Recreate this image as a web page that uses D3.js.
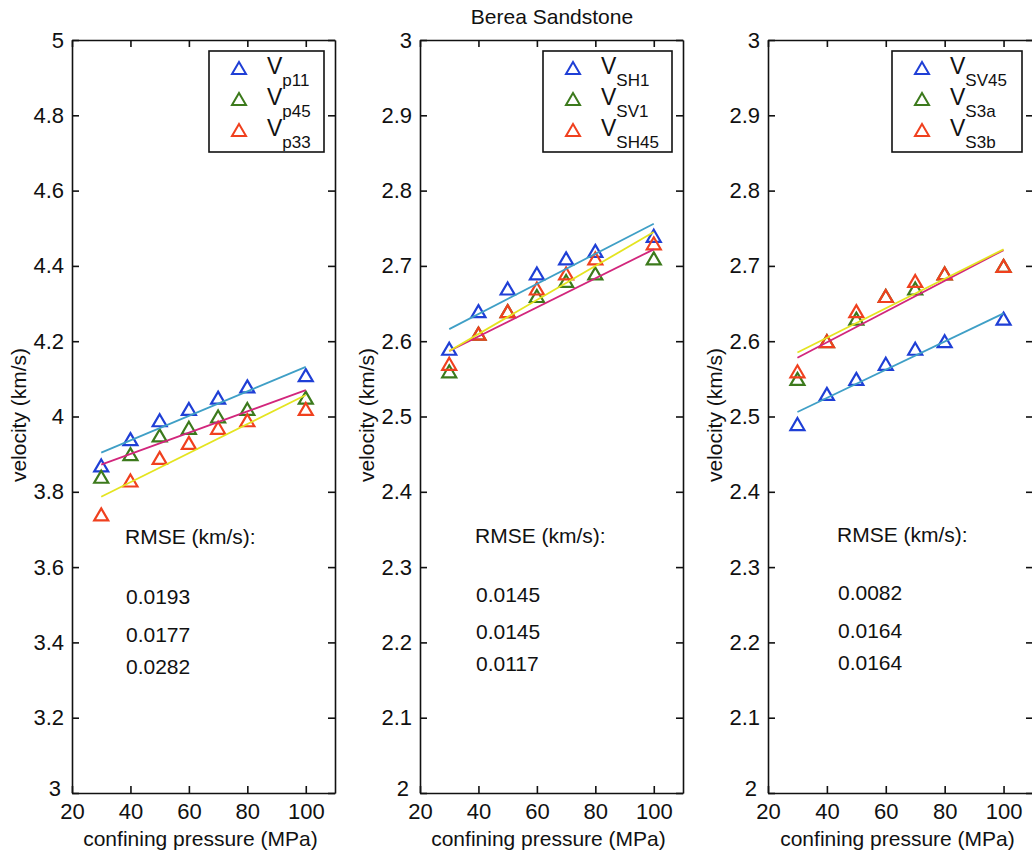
<!DOCTYPE html>
<html><head><meta charset="utf-8">
<script src="https://cdn.jsdelivr.net/npm/d3@7"></script>
<style>
html,body{margin:0;padding:0;background:#fff;}
svg{display:block;font-family:"Liberation Sans",Arial,Helvetica,sans-serif;}
</style>
</head><body>
<svg id="chart" width="1032" height="854"></svg>
<script>
// ---------- data ----------
const pressure = [30, 40, 50, 60, 70, 80, 100];
const xTicks = [20, 40, 60, 80, 100];

// panel 1 (P-wave)
const vp11 = [3.87, 3.94, 3.99, 4.02, 4.05, 4.08, 4.11];
const vp45 = [3.84, 3.90, 3.95, 3.97, 4.00, 4.02, 4.05];
const vp33 = [3.74, 3.83, 3.89, 3.93, 3.97, 3.99, 4.02];
// panel 2
const vSH1  = [2.59, 2.64, 2.67, 2.69, 2.71, 2.72, 2.74];
const vSV1  = [2.56, 2.61, 2.64, 2.66, 2.68, 2.69, 2.71];
const vSH45 = [2.57, 2.61, 2.64, 2.67, 2.69, 2.71, 2.73];
// panel 3
const vSV45 = [2.49, 2.53, 2.55, 2.57, 2.59, 2.60, 2.63];
const vS3a  = [2.55, 2.60, 2.63, 2.66, 2.67, 2.69, 2.70];
const vS3b  = [2.56, 2.60, 2.64, 2.66, 2.68, 2.69, 2.70];

// model fit lines (value at first and last pressure)
const fitPressure = [30, 100];
const fitVp11 = [3.904, 4.132], fitVp45 = [3.872, 4.070], fitVp33 = [3.787, 4.057];
const fitSH1 = [2.616, 2.756], fitSV1 = [2.587, 2.722], fitSH45 = [2.587, 2.745];
const fitSV45 = [2.506, 2.637], fitS3a = [2.578, 2.721], fitS3b = [2.585, 2.722];

const yTicks1 = [3, 3.2, 3.4, 3.6, 3.8, 4, 4.2, 4.4, 4.6, 4.8, 5];
const yTicks2 = [2, 2.1, 2.2, 2.3, 2.4, 2.5, 2.6, 2.7, 2.8, 2.9, 3];

const labels1 = [["V","p11"],["V","p45"],["V","p33"]];
const labels2 = [["V","SH1"],["V","SV1"],["V","SH45"]];
const labels3 = [["V","SV45"],["V","S3a"],["V","S3b"]];

const rmse1 = ["0.0193", "0.0177", "0.0282"];
const rmse2 = ["0.0145", "0.0145", "0.0117"];
const rmse3 = ["0.0082", "0.0164", "0.0164"];

const title = "Berea Sandstone";
const xTitle = "confining pressure (MPa)";
const yTitle = "velocity (km/s)";

// ---------- styles ----------
const markerColors = ["#1f3fd6", "#3c7a1c", "#f0401e"];
// fit colours per series: series1 cyan, series2 magenta, series3 yellow
const fitColors = ["#3f9fc6", "#d2267c", "#e4e420"];
const FONT = 21;
const TICKFONT = 22;

const panels = [
  {left:72, right:335, ydom:[3,5], yTicks:yTicks1, series:[vp11,vp45,vp33], fits:[fitVp11,fitVp45,fitVp33],
   labels:labels1, rmse:rmse1, legW:115, rmseX:53, rmseY:[537,597,635,667]},
  {left:420, right:683, ydom:[2,3], yTicks:yTicks2, series:[vSH1,vSV1,vSH45], fits:[fitSH1,fitSV1,fitSH45],
   labels:labels2, rmse:rmse2, legW:129, rmseX:55, rmseY:[536,595,632,664]},
  {left:768, right:1033, ydom:[2,3], yTicks:yTicks2, series:[vSV45,vS3a,vS3b], fits:[fitSV45,fitS3a,fitS3b],
   labels:labels3, rmse:rmse3, legW:130, rmseX:69, rmseY:[535,593,631,663]}
];
const TOP = 40, BOTTOM = 793;

const svg = d3.select("#chart");

svg.append("text").attr("x", 552).attr("y", 24).attr("text-anchor","middle")
  .attr("font-size", 21).attr("fill","#111").text(title);

function triPath(w, h) {
  return `M0,${-h/2}L${w/2},${h/2}L${-w/2},${h/2}Z`;
}
const fmt = d => String(+d.toFixed(1));

panels.forEach(p => {
  const x = d3.scaleLinear().domain([20,110]).range([p.left, p.right]);
  const y = d3.scaleLinear().domain(p.ydom).range([BOTTOM, TOP]);
  const g = svg.append("g");

  // axes
  const axL = d3.axisLeft(y).tickValues(p.yTicks).tickFormat(fmt).tickSizeInner(-7).tickSizeOuter(0).tickPadding(8);
  const axR = d3.axisRight(y).tickValues(p.yTicks).tickFormat("").tickSizeInner(-7).tickSizeOuter(0);
  const axB = d3.axisBottom(x).tickValues(xTicks).tickFormat(d3.format("d")).tickSizeInner(-7).tickSizeOuter(0).tickPadding(10);
  const axT = d3.axisTop(x).tickValues(xTicks).tickFormat("").tickSizeInner(-7).tickSizeOuter(0);
  const style = sel => {
    sel.selectAll("path,line").attr("stroke","#111").attr("stroke-width",1.6);
    sel.selectAll("text").attr("font-size",TICKFONT).attr("fill","#111")
      .attr("font-family",'"Liberation Sans",Arial,Helvetica,sans-serif');
  };
  const gl = g.append("g").attr("transform",`translate(${p.left},0)`).call(axL).call(style);
  // corner label (lowest y tick) nudged so it does not collide with the first x label
  gl.selectAll(".tick text").filter(d => d === p.ydom[0]).attr("x", -11).attr("dy", "0.12em");
  g.append("g").attr("transform",`translate(${p.right},0)`).call(axR).call(style);
  g.append("g").attr("transform",`translate(0,${BOTTOM})`).call(axB).call(style);
  g.append("g").attr("transform",`translate(0,${TOP})`).call(axT).call(style);

  // axis titles
  g.append("text").attr("x",(p.left+p.right)/2 - 3).attr("y",846).attr("text-anchor","middle")
    .attr("font-size",FONT).attr("fill","#111").text(xTitle);
  g.append("text").attr("transform",`translate(${p.left-46},415) rotate(-90)`).attr("text-anchor","middle")
    .attr("font-size",FONT).attr("fill","#111").text(yTitle);

  // markers
  p.series.forEach((s, i) => {
    g.append("g").selectAll("path").data(s).join("path")
      .attr("transform",(d,j) => `translate(${x(pressure[j])},${y(d)})`)
      .attr("d", triPath(14, 12))
      .attr("fill","none").attr("stroke",markerColors[i]).attr("stroke-width",2.2);
  });
  // fit lines
  const line = d3.line().x((d,j) => x(fitPressure[j])).y(d => y(d));
  p.fits.forEach((f, i) => {
    g.append("path").datum(f).attr("d", line).attr("fill","none")
      .attr("stroke", fitColors[i]).attr("stroke-width",1.8);
  });

  // legend
  const lx = p.right - 11 - p.legW, ly = 51;
  g.append("rect").attr("x",lx).attr("y",ly).attr("width",p.legW).attr("height",101)
    .attr("fill","#fff").attr("stroke","#111").attr("stroke-width",1.6);
  p.labels.forEach((lab, i) => {
    const cy = 68 + i*31;
    g.append("path").attr("transform",`translate(${lx+30},${cy})`).attr("d",triPath(14,12))
      .attr("fill","none").attr("stroke",markerColors[i]).attr("stroke-width",2);
    const t = g.append("text").attr("x",lx+58).attr("y",cy+6).attr("font-size",23).attr("fill","#111");
    t.append("tspan").text(lab[0]);
    t.append("tspan").attr("dy",12).attr("font-size",17).text(lab[1]);
  });

  // RMSE annotation
  g.append("text").attr("x",p.left+p.rmseX).attr("y",p.rmseY[0]+7).attr("font-size",FONT).attr("fill","#111")
    .text("RMSE (km/s):");
  p.rmse.forEach((r, i) => {
    g.append("text").attr("x",p.left+p.rmseX+1).attr("y",p.rmseY[i+1]+7).attr("font-size",FONT).attr("fill","#111").text(r);
  });
});
</script>
</body></html>
